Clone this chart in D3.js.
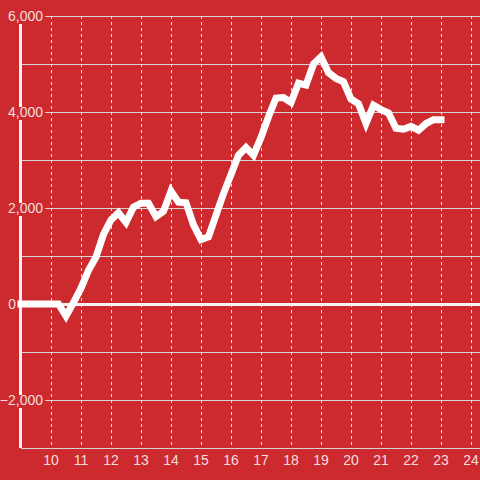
<!DOCTYPE html>
<html><head><meta charset="utf-8">
<script src="https://cdn.jsdelivr.net/npm/d3@7"></script>
<style>html,body{margin:0;padding:0;background:#cc2a2f;}svg{display:block;}</style>
</head><body>
<svg id="chart" width="480" height="480"></svg>
<script>
const times = [9,9.25,9.5,9.75,10,10.25,10.5,10.75,11,11.25,11.5,11.75,12,12.25,12.5,12.75,13,13.25,13.5,13.75,14,14.25,14.5,14.75,15,15.25,15.5,15.75,16,16.25,16.5,16.75,17,17.25,17.5,17.75,18,18.25,18.5,18.75,19,19.25,19.5,19.75,20,20.25,20.5,20.75,21,21.25,21.5,21.75,22,22.25,22.5,22.75,23];
const values = [0,0,0,0,0,0,-250,30,330,700,980,1450,1750,1900,1700,2020,2100,2100,1820,1930,2350,2120,2110,1650,1340,1400,1850,2300,2700,3100,3260,3100,3470,3900,4290,4300,4200,4600,4560,5000,5150,4820,4700,4630,4270,4170,3760,4140,4050,3980,3660,3640,3700,3620,3760,3840,3840];
const xTicks = [10,11,12,13,14,15,16,17,18,19,20,21,22,23,24];
const yLabelTicks = [-2000,0,2000,4000,6000];
const yGridTicks = [-3000,-2000,-1000,0,1000,2000,3000,4000,5000,6000];

const svg = d3.select("#chart");
const x = d3.scaleLinear().domain([9, 24]).range([21, 471]);
const y = d3.scaleLinear().domain([-3000, 6000]).range([448, 16]);
const bg = "#cc2a2f";
const fmt = d3.format(",");

svg.append("rect").attr("width",480).attr("height",480).attr("fill",bg);

// horizontal grid
svg.append("g").selectAll("line").data(yGridTicks.filter(d=>d!==0)).join("line")
  .attr("x1", x(9)).attr("x2", 480)
  .attr("y1", d=>y(d)).attr("y2", d=>y(d))
  .attr("stroke", "#d4d4d4").attr("stroke-width", 1).attr("shape-rendering","crispEdges");

// vertical dashed grid
svg.append("g").selectAll("line").data(xTicks).join("line")
  .attr("x1", d=>x(d)).attr("x2", d=>x(d))
  .attr("y1", y(6000)).attr("y2", y(-3000))
  .attr("stroke", "#e4e4e4").attr("stroke-width", 1).attr("stroke-dasharray","3,3")
  .attr("shape-rendering","crispEdges");

// zero line
svg.append("line").attr("x1", x(9)).attr("x2", 480).attr("y1", y(0)+0.5).attr("y2", y(0)+0.5)
  .attr("stroke", "#f5f2f2").attr("stroke-width", 3);

// y axis line
svg.append("line").attr("x1", x(9)-0.5).attr("x2", x(9)-0.5).attr("y1", y(6000)).attr("y2", y(-3000))
  .attr("stroke", "#f5f2f2").attr("stroke-width", 3);

// data line
const line = d3.line().x((d,i)=>x(times[i])).y(d=>y(d));
svg.append("path").datum(values).attr("d", line)
  .attr("fill","none").attr("stroke","#ffffff").attr("stroke-width",7)
  .attr("stroke-linejoin","miter").attr("stroke-linecap","square");

// y labels with background
const yl = svg.append("g");
yLabelTicks.forEach(d=>{
  const g = yl.append("g");
  const zero = d === 0;
  const r = g.append("rect").attr("fill", bg);
  const t = g.append("text").attr("x", zero ? 16 : 43).attr("y", y(d)+5)
    .attr("text-anchor","end").attr("font-family","Liberation Sans, Arial, sans-serif")
    .attr("font-size",14).attr("fill","#f3dede").text(fmt(d));
  const b = t.node().getBBox();
  if (zero) r.remove();
  else r.attr("x", b.x-1).attr("y", y(d)-5).attr("width", b.width+3).attr("height", 13);
});

// x labels
svg.append("g").selectAll("text").data(xTicks).join("text")
  .attr("x", d=>x(d)).attr("y", 465).attr("text-anchor","middle")
  .attr("font-family","Liberation Sans, Arial, sans-serif").attr("font-size",14)
  .attr("fill","#f3dede").text(d=>d);
</script>
</body></html>
